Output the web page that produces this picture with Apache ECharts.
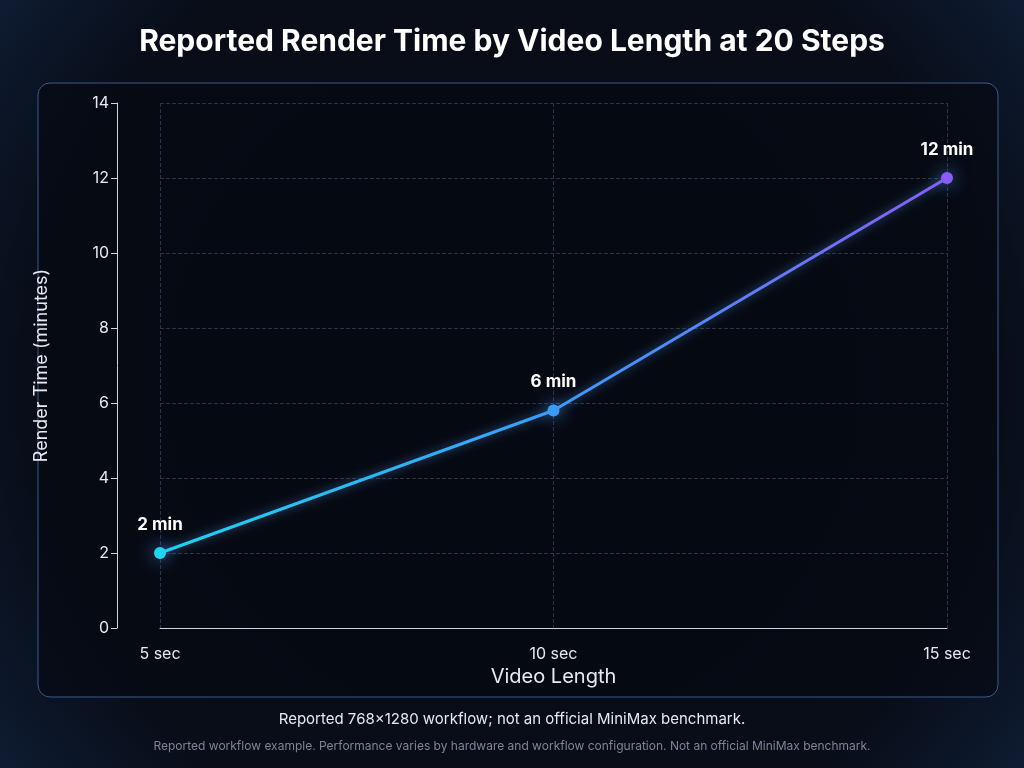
<!DOCTYPE html>
<html><head><meta charset="utf-8">
<script src="https://cdn.jsdelivr.net/npm/echarts@6/dist/echarts.min.js"></script>
<style>html,body{margin:0;background:#070b14}#c{width:1024px;height:768px}</style>
</head><body><div id="c"></div>
<script>
var categories = ['5 sec', '10 sec', '15 sec'];
var renderMinutes = [2, 5.8, 12];
var pointLabels = ['2 min', '6 min', '12 min'];

var chart = echarts.init(document.getElementById('c'));
chart.setOption({
  backgroundColor: {
    type: 'radial', x: 0.5, y: 0.5, r: 0.9,
    colorStops: [{offset: 0, color: '#070b14'}, {offset: 0.7, color: '#080d18'}, {offset: 1, color: '#10203a'}]
  },
  title: {
    text: 'Reported Render Time by Video Length at 20 Steps',
    left: 'center', top: 22,
    textStyle: {color: '#fff', fontSize: 30, fontWeight: 'bold', fontFamily: 'Inter'}
  },
  graphic: [
    {type: 'rect', shape: {x: 38, y: 83, width: 960, height: 614, r: 12},
     style: {fill: 'rgba(5,8,16,0.6)', stroke: '#3b5a8a', lineWidth: 1}, z: -1},
    {type: 'text', left: 'center', top: 712,
     style: {text: 'Reported 768×1280 workflow; not an official MiniMax benchmark.', fill: '#e6e9ef', fontSize: 15, fontFamily: 'Inter'}},
    {type: 'text', left: 'center', top: 740,
     style: {text: 'Reported workflow example. Performance varies by hardware and workflow configuration. Not an official MiniMax benchmark.', fill: '#7d8596', fontSize: 12, fontFamily: 'Inter'}}
  ],
  grid: {left: 160, right: 77, top: 103, bottom: 140, outerBoundsMode: 'none', containLabel: false},
  xAxis: {
    type: 'category', data: categories, boundaryGap: false,
    name: 'Video Length', nameLocation: 'middle', nameGap: 38,
    nameTextStyle: {color: '#e6e9ef', fontSize: 20, fontFamily: 'Inter'},
    axisLine: {lineStyle: {color: '#d0d4dc'}},
    axisTick: {show: false},
    axisLabel: {color: '#e6e9ef', fontSize: 16, margin: 18, fontFamily: 'Inter'},
    splitLine: {show: true, lineStyle: {color: '#2a3444', type: 'dashed'}}
  },
  yAxis: {
    type: 'value', min: 0, max: 14, interval: 2,
    name: 'Render Time (minutes)', nameLocation: 'middle', nameGap: 66,
    nameTextStyle: {color: '#e6e9ef', fontSize: 18, fontFamily: 'Inter'},
    offset: 43,
    axisLine: {show: true, lineStyle: {color: '#d0d4dc'}},
    axisTick: {show: true, length: 6, lineStyle: {color: '#d0d4dc'}},
    axisLabel: {color: '#e6e9ef', fontSize: 16, fontFamily: 'Inter'},
    splitLine: {lineStyle: {color: '#2a3444', type: 'dashed'}}
  },
  series: [{
    type: 'line', data: renderMinutes,
    symbol: 'circle', symbolSize: 12,
    lineStyle: {width: 3, color: {type: 'linear', x: 0, y: 0, x2: 1, y2: 0,
      colorStops: [{offset: 0, color: '#22d3ee'}, {offset: 0.5, color: '#3b9cf6'}, {offset: 1, color: '#8b5cf6'}]},
      shadowBlur: 10, shadowColor: 'rgba(80,160,255,0.6)'},
    itemStyle: {
      color: function (p) { return ['#22d3ee', '#3b9cf6', '#8b5cf6'][p.dataIndex]; },
      shadowBlur: 18, shadowColor: 'rgba(90,150,255,0.9)'
    },
    label: {
      show: true, position: 'top', distance: 14,
      formatter: function (p) { return pointLabels[p.dataIndex]; },
      color: '#fff', fontSize: 17, fontWeight: 'bold', fontFamily: 'Inter'
    }
  }]
});
</script></body></html>
